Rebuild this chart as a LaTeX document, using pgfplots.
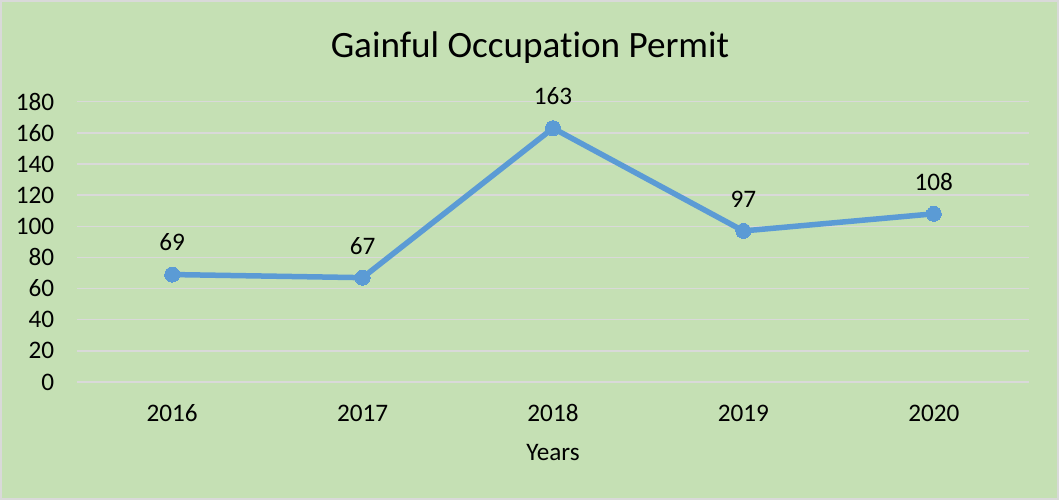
\documentclass[border=0pt]{standalone}
\usepackage{pgfplots}
\pgfplotsset{compat=1.18}
\usepackage{fontspec}
\setmainfont{Carlito}[Ligatures=NoCommon]
\definecolor{bgc}{HTML}{C5E0B4}
\definecolor{gridc}{HTML}{D9D9D9}
\definecolor{linec}{HTML}{5B9BD5}
\begin{document}
\begin{tikzpicture}[x=1bp,y=1bp]
\fill[bgc] (0,0) rectangle (1059,500);
\draw[gridc,line width=2bp] (1,1) rectangle (1058,499);
\node[anchor=base,font=\fontsize{37.3}{44}\selectfont,inner sep=0pt] at (530,442.7) {Gainful Occupation Permit};
\begin{axis}[
  at={(77bp,118bp)}, anchor=south west,
  scale only axis, width=952bp, height=280.3bp,
  xmin=-0.5, xmax=4.5, ymin=0, ymax=180,
  ytick={0,20,...,180},
  xtick={0,1,2,3,4},
  xticklabels={2016,2017,2018,2019,2020},
  axis line style={draw=none},
  major tick length=0pt,
  ymajorgrids, xmajorgrids=false,
  major grid style={draw=gridc, line width=1.5bp},
  /pgf/number format/assume math mode=true,
  tick label style={font=\fontsize{25.3}{30}\selectfont, inner sep=0pt},
  yticklabel style={anchor=east, xshift=-22.7bp},
  xticklabel style={anchor=base, yshift=-39.7bp},
  xlabel={Years},
  xlabel style={at={(axis description cs:0.5,0)}, anchor=base, yshift=-78.7bp, font=\fontsize{25.3}{30}\selectfont, inner sep=0pt},
  clip=false,
]
\addplot[linec, line width=5.5bp, mark=*, mark size=7.5bp, mark options={fill=linec, draw=linec, line width=0pt},
  nodes near coords,
  every node near coord/.append style={anchor=base, yshift=23.6bp, font=\fontsize{25.3}{30}\selectfont, text=black, inner sep=0pt}]
coordinates {(0,69) (1,67) (2,163) (3,97) (4,108)};
\end{axis}
\end{tikzpicture}
\end{document}
